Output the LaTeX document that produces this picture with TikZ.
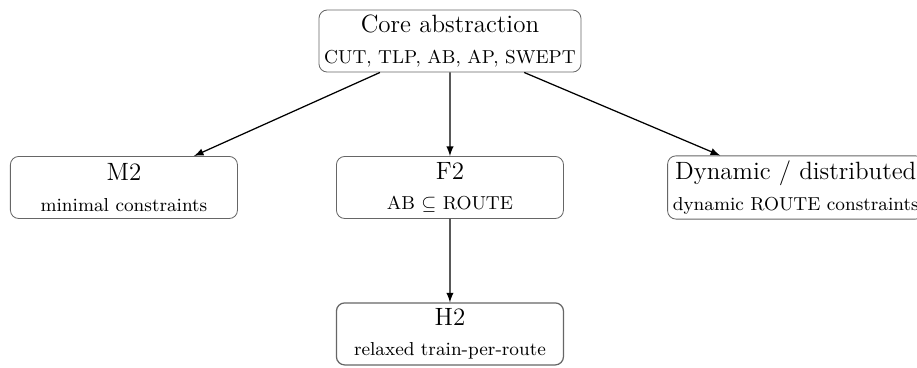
\documentclass[tikz,border=0pt]{standalone}
\usepackage{amssymb}
\usepackage{tikz}
\tikzset{
  stagenode/.style = {shape=rectangle, rounded corners,
                      draw=black!60, align=center, fill=white,
                      inner sep=2.5pt,
                      minimum width=109pt, minimum height=29.8pt}
}

\begin{document}
\begin{tikzpicture}
  [
    grow                    = down,
    level distance          = 70.3pt,
    edge from parent/.style = {draw, semithick, -latex}
  ]
  \useasboundingbox (-216pt,19.7pt) rectangle (224.2pt,-156.5pt);
  \node [stagenode] (core) {{\large Core abstraction}\\[2.5pt]{\small CUT, TLP, AB, AP, SWEPT}}
    child [sibling distance=156.5pt] { node [stagenode] (m2)
      {{\large M2}\\[2.5pt]{\small minimal constraints}} }
    child { node [stagenode] (f2)
      {{\large F2}\\[2.5pt]{\small AB $\subseteq$ ROUTE}}
      child { node [stagenode] (h2)
        {{\large H2}\\[2.5pt]{\small relaxed train-per-route}} } }
    child [sibling distance=166pt] { node [stagenode] (dyn)
      {{\large Dynamic / distributed}\\[2.5pt]{\small dynamic ROUTE constraints}} };
\end{tikzpicture}
\end{document}
